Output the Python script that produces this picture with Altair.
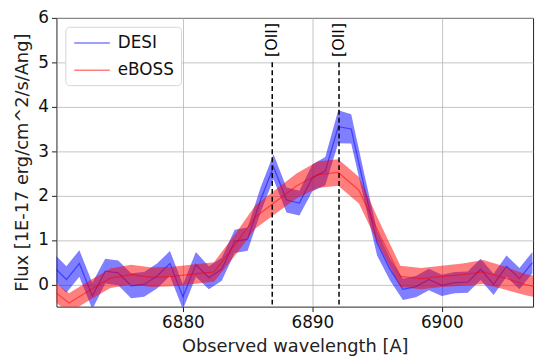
import altair as alt
import pandas as pd

# DESI spectrum (observed wavelength in A, flux, 1-sigma error)
desi_wave = list(range(6870, 6908))
desi_flux = [0.40, 0.11, 0.47, -0.26, 0.30, 0.26, -0.03, 0.00, 0.19, 0.47,
             -0.28, 0.45, 0.15, 0.34, 0.97, 1.02, 1.90, 2.65, 1.90, 1.83,
             2.40, 2.55, 3.55, 3.50, 2.20, 0.93, 0.34, -0.11, -0.05, 0.11,
             -0.02, 0.04, 0.05, 0.34, 0.00, 0.41, 0.13, 0.49]
desi_err = [0.30, 0.30, 0.30, 0.30, 0.28, 0.28, 0.28, 0.28, 0.28, 0.28,
            0.28, 0.28, 0.26, 0.26, 0.26, 0.26, 0.28, 0.28, 0.28, 0.28,
            0.30, 0.32, 0.37, 0.33, 0.30, 0.28, 0.25, 0.24, 0.24, 0.24,
            0.24, 0.24, 0.24, 0.24, 0.24, 0.24, 0.24, 0.24]

# eBOSS spectrum
eboss_wave = [6869.6, 6871.2, 6872.8, 6874.4, 6876.0, 6877.6, 6879.2, 6880.8,
              6882.4, 6884.0, 6885.6, 6887.2, 6888.8, 6890.4, 6892.0, 6893.6,
              6895.2, 6896.8, 6898.4, 6900.0, 6901.6, 6903.2, 6904.8, 6906.4,
              6908.0]
eboss_flux = [-0.05, -0.42, -0.13, 0.14, 0.22, 0.16, 0.18, 0.23,
              0.28, 0.88, 1.52, 1.87, 2.22, 2.47, 2.52, 2.12,
              1.12, 0.18, 0.13, 0.18, 0.22, 0.28, 0.15, 0.00,
              -0.10]
eboss_err = [0.22, 0.22, 0.22, 0.22, 0.22, 0.22, 0.22, 0.22,
             0.22, 0.24, 0.26, 0.27, 0.28, 0.30, 0.30, 0.30,
             0.28, 0.24, 0.24, 0.24, 0.25, 0.27, 0.26, 0.24,
             0.24]

# [OII] doublet positions
line_wave = [6886.9, 6892.06]
line_label = ["[OII]", "[OII]"]

x_domain = [6870.23, 6907.05]
y_domain = [-0.5, 6]

rows = []
for w, f, e in zip(desi_wave, desi_flux, desi_err):
    rows.append({"wave": w, "flux": f, "lo": f - e, "hi": f + e, "survey": "DESI"})
for w, f, e in zip(eboss_wave, eboss_flux, eboss_err):
    rows.append({"wave": w, "flux": f, "lo": f - e, "hi": f + e, "survey": "eBOSS"})
df = pd.DataFrame(rows)

lines_df = pd.DataFrame({"wave": line_wave, "label": line_label,
                         "top": [5.0] * 2, "bottom": [-0.5] * 2, "ty": [5.12] * 2})

FONT = "DejaVu Sans"
xs = alt.Scale(domain=x_domain, nice=False, zero=False)
ys = alt.Scale(domain=y_domain, nice=False, zero=False)
cs = alt.Scale(domain=["DESI", "eBOSS"], range=["blue", "red"])

xenc = alt.X("wave:Q", scale=xs, title="Observed wavelength [A]",
             axis=alt.Axis(values=[6880, 6890, 6900], format="d"))
yenc = alt.Y("flux:Q", scale=ys, title="Flux [1E-17 erg/cm^2/s/Ang]",
             axis=alt.Axis(values=[0, 1, 2, 3, 4, 5, 6]))

base = alt.Chart(df)


def band(name):
    return base.transform_filter(alt.datum.survey == name).mark_area(
        opacity=0.5, clip=True, color=("blue" if name == "DESI" else "red")
    ).encode(x=xenc, y=alt.Y("lo:Q", scale=ys), y2="hi:Q")


def line(name):
    return base.transform_filter(alt.datum.survey == name).mark_line(
        opacity=0.5, clip=True, strokeWidth=1.3
    ).encode(
        x=xenc, y=yenc,
        color=alt.Color("survey:N", scale=cs, legend=alt.Legend(
            title=None, orient="top-left", offset=9, symbolType="M0,0H4",
            symbolSize=324, symbolStrokeWidth=1.5, symbolOpacity=0.5,
            symbolFillColor="transparent", symbolOffset=-7.5,
            labelFontSize=17, labelFont=FONT, labelColor="#111",
            labelOffset=34, rowPadding=9.5, padding=6.5, fillColor="white",
            strokeColor="#d6d6d6", cornerRadius=4)))


rules = alt.Chart(lines_df).mark_rule(color="black", strokeDash=[5, 3],
                                      strokeWidth=1.5, clip=True).encode(
    x=alt.X("wave:Q", scale=xs), y=alt.Y("top:Q", scale=ys), y2="bottom:Q")

texts = alt.Chart(lines_df).mark_text(angle=270, align="left", baseline="middle",
                                      font=FONT, fontSize=16, color="black").encode(
    x=alt.X("wave:Q", scale=xs), y=alt.Y("ty:Q", scale=ys), text="label:N")

chart = alt.layer(band("DESI"), line("DESI"), band("eBOSS"), line("eBOSS"),
                  rules, texts).properties(
    width=482, height=292,
    autosize=alt.AutoSizeParams(type="none"),
    padding={"left": 49, "top": 8, "right": 5, "bottom": 55},
).configure_view(stroke="#222", strokeWidth=1).configure_axis(
    grid=True, gridColor="#b0b0b0", gridOpacity=0.75, gridWidth=1,
    domain=False, tickColor="#222", tickSize=5, tickWidth=1,
    labelFont=FONT, labelFontSize=17, labelColor="#111", labelPadding=3,
    titleFont=FONT, titleFontSize=18, titleFontWeight="normal", titleColor="#222",
).configure_axisX(titlePadding=7).configure_axisY(titlePadding=6)

chart.save("out.html", embed_options={"renderer": "svg", "actions": False})
